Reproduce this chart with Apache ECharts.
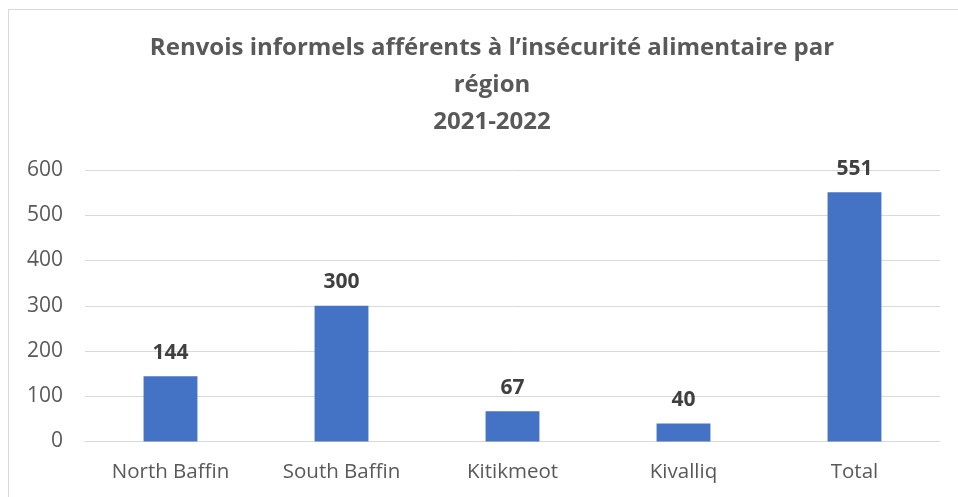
<!DOCTYPE html>
<html>
<head>
<meta charset="utf-8">
<script src="https://cdn.jsdelivr.net/npm/echarts@6/dist/echarts.min.js"></script>
<style>
html,body{margin:0;padding:0;background:#fff;}
#c{width:958px;height:497px;}
</style>
</head>
<body>
<div id="c"></div>
<script>
const titleLines = ["Renvois informels afférents à l’insécurité alimentaire par", "région", "2021-2022"];
const categories = ["North Baffin", "South Baffin", "Kitikmeot", "Kivalliq", "Total"];
const values = [144, 300, 67, 40, 551];
const yTicks = [0, 100, 200, 300, 400, 500, 600];

const chart = echarts.init(document.getElementById('c'), null, {renderer: 'canvas'});
chart.setOption({
  animation: false,
  backgroundColor: '#ffffff',
  title: {
    text: titleLines.join('\n'),
    left: 487,
    top: 25,
    textAlign: 'center',
    textStyle: {
      fontFamily: 'Open Sans',
      fontWeight: 'bold',
      fontSize: 24,
      lineHeight: 37,
      color: '#595959'
    }
  },
  graphic: [
    {type: 'line', shape: {x1: 8, y1: 9.5, x2: 958, y2: 9.5}, style: {stroke: '#d9d9d9', lineWidth: 1}},
    {type: 'line', shape: {x1: 8.5, y1: 9, x2: 8.5, y2: 497}, style: {stroke: '#d9d9d9', lineWidth: 1}}
  ],
  grid: {left: 85, right: 18, top: 170, bottom: 55.5, containLabel: false},
  xAxis: {
    type: 'category',
    data: categories,
    axisLine: {show: true, lineStyle: {color: '#d9d9d9', width: 1}},
    axisTick: {show: false},
    axisLabel: {fontFamily: 'Open Sans', fontSize: 20.5, color: '#595959', margin: 20}
  },
  yAxis: {
    type: 'value',
    min: yTicks[0],
    max: yTicks[yTicks.length - 1],
    interval: 100,
    axisLine: {show: false},
    axisTick: {show: false},
    splitLine: {lineStyle: {color: '#d9d9d9', width: 1}},
    axisLabel: {fontFamily: 'Open Sans', fontSize: 21, color: '#595959', margin: 22}
  },
  series: [{
    type: 'bar',
    data: values,
    barWidth: '31.5%',
    itemStyle: {color: '#4472c4'},
    label: {
      show: true,
      position: 'top',
      distance: 13,
      fontFamily: 'Open Sans',
      fontWeight: 'bold',
      fontSize: 21,
      color: '#404040'
    }
  }]
});
</script>
</body>
</html>
